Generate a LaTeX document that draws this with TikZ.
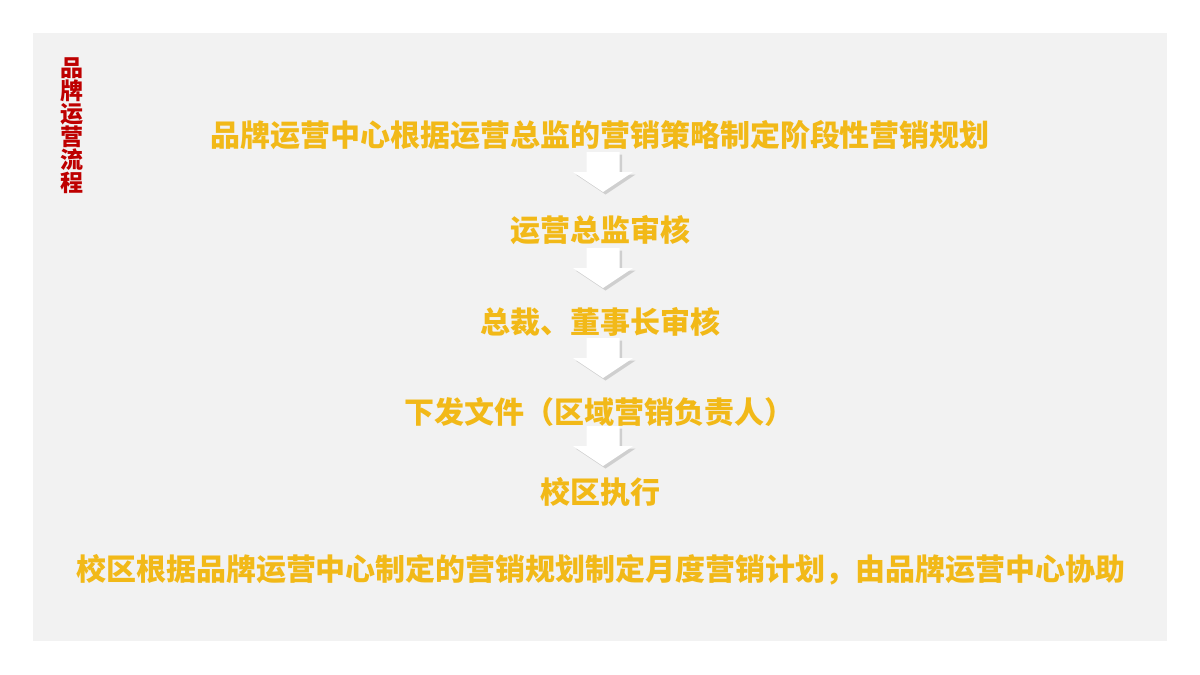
\documentclass[tikz,border=0pt]{standalone}
\usepackage{fontspec}
\newfontfamily\cjk{Noto Sans CJK SC}
\usetikzlibrary{shadows}

\definecolor{gold}{RGB}{242,185,24}
\definecolor{darkred}{RGB}{190,0,0}
\definecolor{panel}{RGB}{242,242,242}

\tikzset{
  flowtext/.style={text=gold,inner sep=0pt,
    font=\cjk\bfseries\fontsize{30}{32}\selectfont},
  pics/downarrow/.style={code={
    \fill[white,drop shadow={shadow xshift=2.5pt,shadow yshift=-2.5pt,opacity=0.3}]
      (-16.5,0)--(16.5,0)--(16.5,20)--(30,20)--(0,40)--(-30,20)--(-16.5,20)--cycle;
  }}
}

\begin{document}
\begin{tikzpicture}[x=1pt,y=-1pt]

\useasboundingbox (0,0) rectangle (1200,675);
\fill[panel] (33,33) rectangle (1167,641);

% title down the left side
\node[text=darkred,inner sep=0pt,align=center,
  font=\cjk\bfseries\fontsize{23}{23}\selectfont] (title) at (72,125.5)
  {品\\牌\\运\\营\\流\\程};

% arrows first, the texts sit on top of them
\pic at (603,152) {downarrow};
\pic at (603,248) {downarrow};
\pic at (603,338) {downarrow};
\pic at (603,426) {downarrow};

\node[flowtext] (plan) at (600,135) {品牌运营中心根据运营总监的营销策略制定阶段性营销规划};
\node[flowtext] (review) at (600,230) {运营总监审核};
\node[flowtext] (board) at (600,322) {总裁、董事长审核};
\node[flowtext] (issue) at (599,412) {下发文件（区域营销负责人）};
\node[flowtext] (campus) at (600,492) {校区执行};

\node[flowtext] (monthly) at (601,570)
  {校区根据品牌运营中心制定的营销规划制定月度营销计划，由品牌运营中心协助};

\end{tikzpicture}
\end{document}
